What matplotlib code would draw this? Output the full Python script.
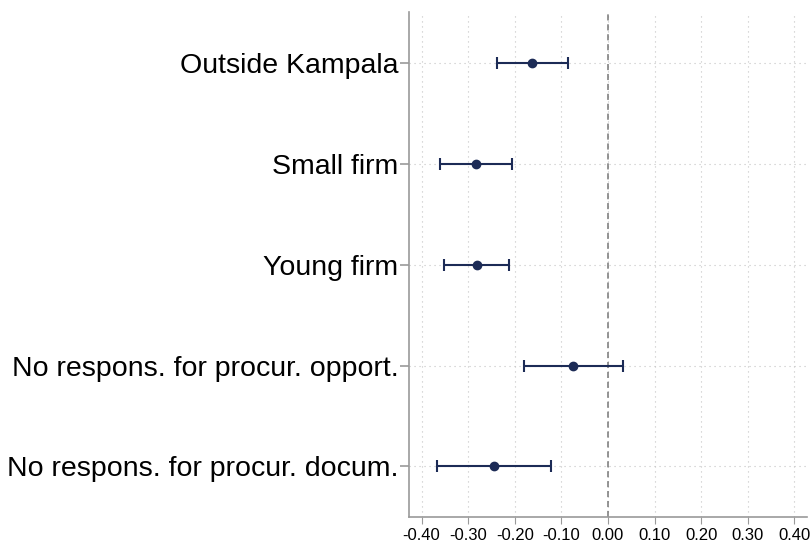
import matplotlib as mpl
mpl.use('Agg')
import matplotlib.pyplot as plt

# coefficient estimates with 95% CI
labels = ['Outside Kampala', 'Small firm', 'Young firm',
          'No respons. for procur. opport.', 'No respons. for procur. docum.']
coef = [-0.162, -0.283, -0.282, -0.074, -0.244]
ci_lo = [-0.239, -0.361, -0.351, -0.180, -0.367]
ci_hi = [-0.086, -0.205, -0.212, 0.033, -0.122]
xticks = [-0.4, -0.3, -0.2, -0.1, 0.0, 0.1, 0.2, 0.3, 0.4]

plt.rcParams['font.family'] = ['Liberation Sans', 'DejaVu Sans']
navy = '#1c2b56'
gray = '#9a9a9a'

fig = plt.figure(figsize=(8.11, 5.48), dpi=100)
ax = fig.add_axes([0.5043, 0.0566, 0.4907, 0.9214])

pos = list(range(1, len(labels) + 1))
err_lo = [c - l for c, l in zip(coef, ci_lo)]
err_hi = [h - c for c, h in zip(coef, ci_hi)]

# grid
for x in xticks:
    ax.axvline(x, color='#c4c4c4', lw=0.8, ls=(0, (1, 3.5)), zorder=0)
for p in pos:
    ax.axhline(p, color='#c4c4c4', lw=0.8, ls=(0, (1, 3.5)), zorder=0)
ax.axvline(0, color='#777777', lw=1.1, ls=(0, (4, 2.5)), zorder=1)

ax.errorbar(coef, pos, xerr=[err_lo, err_hi], fmt='o', color=navy,
            ecolor=navy, elinewidth=1.5, capsize=4.3, capthick=1.5,
            markersize=6, zorder=3)

ax.set_xlim(-0.427, 0.427)
ax.set_ylim(5.5, 0.5)
ax.set_xticks(xticks)
ax.set_xticklabels(['%.2f' % x for x in xticks], fontsize=12)
ax.set_yticks(pos)
ax.set_yticklabels(labels, fontsize=20.5)

for s in ['top', 'right']:
    ax.spines[s].set_visible(False)
for s in ['left', 'bottom']:
    ax.spines[s].set_color(gray)
    ax.spines[s].set_linewidth(1.2)
ax.tick_params(axis='y', length=6.5, width=1.2, color=gray, pad=1)
ax.tick_params(axis='x', length=5, width=0.8, color=gray, pad=3)

fig.savefig('out.png', dpi=100)
